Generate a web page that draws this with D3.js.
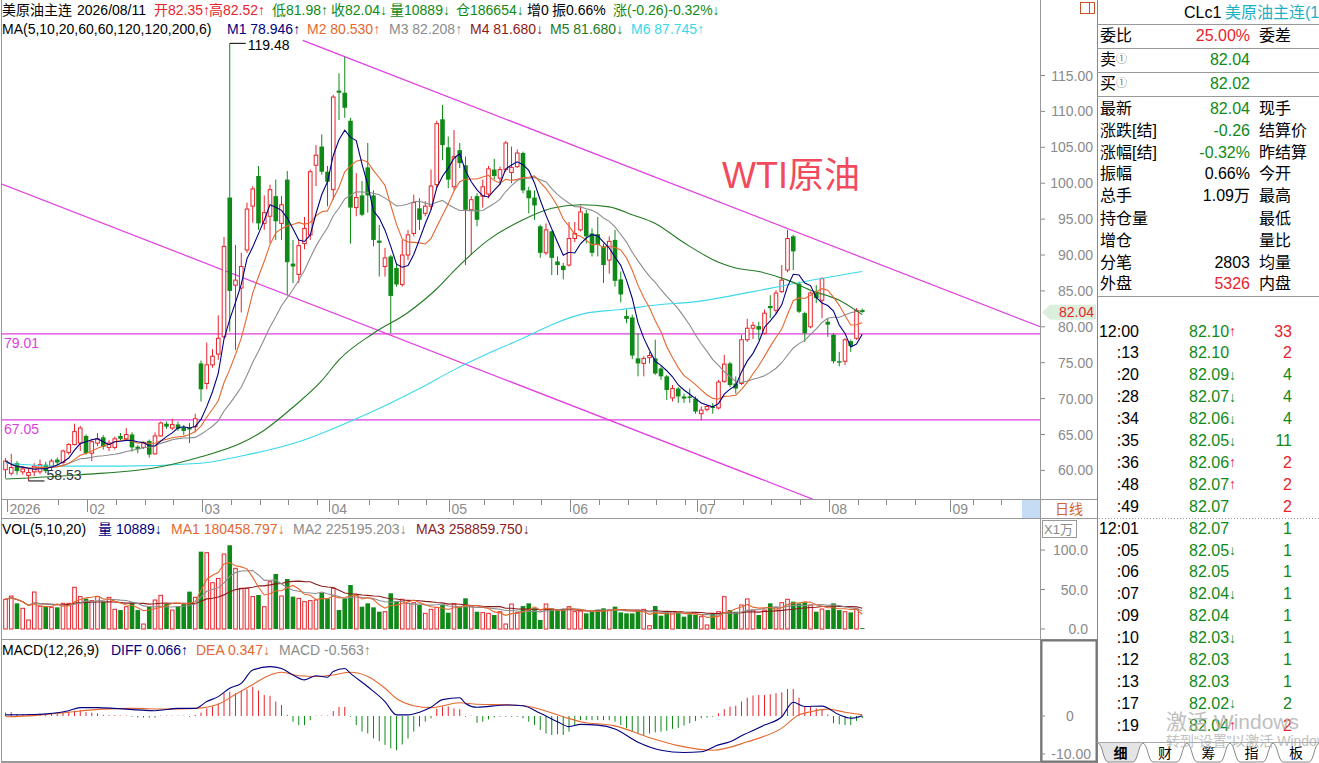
<!DOCTYPE html>
<html>
<head>
<meta charset="utf-8">
<script src="https://cdn.jsdelivr.net/npm/d3@7"></script>
<style>
  body { margin: 0; background: #fff; overflow: hidden; }
  svg text { font-family: "Liberation Sans", Arial, "Noto Sans CJK SC", sans-serif; }
</style>
</head>
<body>
<svg id="chart" width="1319" height="763"></svg>
<script>
// CLc1 daily bars, 2026-01-13 .. 2026-08-11
var opens = [60.1,59.6,61.0,59.8,59.3,59.8,59.8,60.8,60.4,61.5,
  61.1,62.5,63.6,63.8,64.8,62.4,63.8,64.6,63.2,63.2,
  64.8,64.4,65.0,63.3,63.2,64.1,62.3,64.8,66.5,65.9,
  66.4,66.0,65.9,66.1,74.9,72.1,74.7,76.2,78.6,98.0,
  85.8,85.4,90.7,96.8,101.0,94.4,95.4,98.2,94.4,100.5,
  88.8,87.3,91.6,92.8,102.5,105.1,101.6,99.1,112.9,112.6,
  108.7,96.6,98.3,102.2,98.3,92.0,88.4,89.8,88.2,85.9,
  90.0,93.0,96.5,95.8,96.8,99.8,108.9,105.0,99.5,104.6,
  102.5,96.3,98.2,98.2,98.5,101.9,100.7,101.9,101.5,102.3,
  104.2,99.0,98.0,94.0,90.3,93.3,89.1,88.5,88.6,92.3,
  93.5,95.8,93.0,92.9,91.2,89.3,92.1,86.6,81.5,81.3,
  75.6,74.9,75.7,75.6,74.2,73.1,70.1,71.4,70.3,70.3,
  70.0,67.9,68.5,68.9,68.7,72.4,74.9,72.1,72.1,78.2,
  79.8,80.1,79.1,82.9,82.3,84.9,87.9,92.6,86.0,81.9,
  80.0,84.9,83.7,80.7,78.9,75.2,75.2,78.0,78.4,82.35];
var highs = [61.7,62.3,61.3,60.6,60.3,61.0,61.5,61.2,61.6,61.8,
  62.9,63.8,66.5,66.2,65.0,64.4,65.2,64.9,64.2,64.7,
  65.2,65.9,65.3,63.5,64.0,64.3,65.3,66.8,66.8,67.2,
  66.8,66.3,66.6,67.9,75.3,77.8,76.9,81.6,92.5,119.48,
  91.4,90.3,97.3,99.6,102.4,98.3,99.8,100.5,98.2,101.7,
  92.1,92.1,95.3,101.9,105.3,106.8,102.4,112.3,115.3,117.6,
  109.1,101.4,100.3,105.6,99.0,94.2,91.0,90.0,88.9,92.1,
  93.5,98.4,97.9,97.5,101.9,108.7,110.9,106.5,107.4,105.6,
  103.7,98.2,98.6,100.5,102.4,103.4,102.3,105.9,105.1,104.7,
  104.4,99.5,99.0,94.2,94.4,93.4,89.8,88.9,94.6,94.6,
  96.9,96.3,93.7,95.3,91.6,92.6,93.5,87.7,82.4,81.7,
  79.1,75.9,76.5,78.2,74.5,73.3,71.9,71.6,70.7,71.4,
  70.3,68.9,69.1,69.4,72.6,76.1,75.1,73.1,78.9,81.1,
  80.7,80.7,82.4,84.4,85.1,88.6,93.5,92.8,86.3,82.1,
  84.9,85.8,86.9,81.2,79.1,76.5,78.4,78.2,82.6,82.52];
var lows = [58.9,59.3,59.4,59.4,58.53,59.2,59.5,59.6,60.0,60.7,
  60.8,62.2,63.5,62.7,62.2,61.3,63.4,62.9,62.7,62.9,
  64.1,64.2,62.6,62.4,63.0,61.8,62.2,64.7,65.8,65.6,
  65.5,64.9,63.8,65.3,69.6,71.3,74.3,75.4,78.4,79.3,
  76.8,82.0,90.3,94.5,93.5,93.5,91.6,92.1,92.1,84.5,
  86.1,86.1,90.8,92.1,99.6,101.2,96.8,97.7,108.8,109.1,
  91.6,95.4,95.4,95.9,91.2,87.0,87.0,79.1,85.6,85.6,
  89.3,92.6,93.5,95.4,96.3,99.4,103.2,99.3,99.0,102.1,
  88.6,90.0,94.0,96.6,97.9,100.5,99.8,101.6,100.0,102.1,
  98.6,95.8,94.9,89.6,90.0,87.2,87.2,86.6,88.4,91.8,
  93.3,91.6,89.8,89.8,86.1,87.4,85.6,83.4,80.5,75.5,
  73.1,73.1,74.9,73.3,72.6,69.8,69.6,69.4,69.4,69.4,
  67.9,67.0,68.2,67.9,68.5,72.2,71.6,70.7,71.9,77.9,
  78.3,78.2,78.9,81.2,81.8,84.7,87.6,87.9,81.9,77.9,
  79.8,83.3,81.2,78.6,74.9,74.5,74.7,76.5,78.2,81.98];
var closes = [61.3,60.4,59.9,60.2,59.7,60.6,60.8,59.9,61.3,61.1,
  62.7,63.6,65.4,65.9,62.4,64.0,64.4,63.3,63.8,64.4,
  64.4,65.0,63.2,63.0,63.8,62.2,64.8,66.6,66.1,66.4,
  65.8,65.5,65.7,67.2,71.3,74.7,75.9,78.4,91.2,85.0,
  86.5,88.4,96.4,99.2,94.4,95.9,99.1,94.7,97.0,89.0,
  88.4,91.3,93.7,101.6,103.9,101.6,100.2,112.0,112.6,110.5,
  96.6,98.0,95.6,98.3,92.1,91.7,89.6,84.3,85.9,90.0,
  92.8,97.3,94.9,96.8,99.6,108.3,105.3,100.5,103.7,102.8,
  96.3,97.7,94.9,99.5,102.0,101.0,101.9,105.6,102.2,104.2,
  99.0,97.9,96.9,90.3,93.5,89.6,88.6,87.9,92.3,93.0,
  96.0,92.6,90.3,91.4,88.6,91.9,86.4,84.5,81.1,76.0,
  74.9,75.6,76.0,73.5,73.1,71.2,71.4,70.3,70.0,70.1,
  68.2,68.4,68.9,68.7,72.3,74.8,71.9,71.4,78.2,79.8,
  80.2,79.6,81.9,82.6,84.7,86.5,92.3,90.5,82.1,79.1,
  84.7,84.0,86.7,80.3,75.2,75.0,78.2,77.3,82.3,82.04];
// volume in 10k lots (X1万)
var volumes = [37.5,41.7,32.5,26.2,11.4,46.8,29.0,28.2,27.4,27.4,
  32.5,32.5,52.8,41.0,38.4,35.9,41.0,34.6,40.1,24.9,
  24.0,28.2,33.3,24.0,6.3,28.2,36.7,42.6,31.6,24.0,
  29.0,31.6,47.3,40.1,97.9,96.6,58.6,64.1,94.9,106.0,
  76.8,51.5,51.5,41.0,43.0,28.2,59.9,69.6,41.8,63.3,
  41.0,38.8,34.6,35.9,36.7,46.0,38.8,51.5,24.0,38.8,
  55.7,43.0,28.2,32.5,27.4,21.9,21.9,45.2,34.6,37.6,
  32.5,33.3,30.3,19.8,24.9,27.4,30.3,20.7,31.6,28.2,
  38.8,28.2,21.9,20.7,19.8,17.7,21.9,6.3,31.6,20.7,
  29.0,32.5,26.2,11.4,31.6,26.2,24.0,24.0,28.3,21.9,
  22.8,19.8,21.9,24.0,26.2,24.0,28.3,21.0,19.8,19.8,
  24.0,24.9,4.2,29.1,16.9,21.0,21.9,21.9,15.6,18.6,
  17.7,15.6,5.1,19.8,21.9,40.9,24.0,21.9,30.4,38.0,
  24.0,17.7,24.0,32.5,27.0,33.3,37.6,34.6,32.5,33.8,
  30.4,21.9,25.3,24.0,32.5,24.0,21.9,21.0,25.3,1.0889];

var ma60Idx = [0, 13, 27, 34, 41, 45, 50, 55, 58, 64, 70, 75, 78, 84, 90, 95, 100, 105, 109, 113, 118, 124, 127, 131, 136, 140, 145, 149];
var ma60Val = [58.8, 59.4, 60.5, 61.9, 63.8, 65.6, 68.8, 72.5, 75.4, 79.1, 82.0, 85.3, 87.8, 92.1, 94.9, 96.5, 97.0, 96.7, 95.6, 94.4, 91.7, 89.0, 88.2, 87.7, 86.5, 85.1, 83.7, 81.7];
var ma200Idx = [0, 10, 20, 34, 41, 51, 61, 67, 72, 78, 84, 90, 95, 101, 107, 114, 119, 130, 139, 149];
var ma200Val = [61.0, 60.6, 60.6, 61.0, 62.0, 64.0, 67.2, 69.4, 71.4, 74.0, 76.3, 78.4, 80.3, 81.9, 82.4, 83.1, 83.4, 84.9, 86.3, 87.7];

// MACD(12,26,9) as drawn (also depends on older history)
var diffIdx = [0, 5, 11, 13, 16, 19, 23, 26, 30, 33, 35, 37, 39, 41, 43, 46, 48, 50, 52, 54, 56, 57, 59, 60, 63, 66, 68, 70, 72, 74, 76, 79, 80, 82, 87, 90, 93, 96, 98, 100, 103, 106, 110, 114, 118, 121, 124, 126, 128, 132, 135, 137, 139, 142, 145, 147, 149];
var diffVal = [0.3, 0.4, 1.4, 2.2, 2.2, 2.0, 1.6, 1.4, 2.0, 2.0, 3.8, 5.1, 7.3, 8.6, 12.1, 13.0, 12.5, 10.8, 9.5, 10.6, 10.2, 11.7, 12.5, 11.2, 7.7, 3.8, 0.3, 0.3, 1.0, 2.3, 4.3, 4.8, 3.3, 2.3, 2.9, 2.7, 0.7, -1.5, -2.8, -2.2, -2.4, -3.4, -6.9, -9.0, -9.6, -9.4, -7.6, -6.8, -5.2, -2.4, -0.2, 3.6, 2.5, 2.6, 0.3, -0.6, 0.07];
var deaIdx = [0, 5, 11, 17, 22, 28, 33, 37, 40, 43, 46, 48, 51, 54, 57, 60, 63, 66, 68, 71, 74, 79, 82, 88, 91, 97, 100, 106, 112, 117, 123, 129, 135, 138, 140, 143, 146, 149];
var deaVal = [-0.2, 0.1, 1.0, 1.8, 2.0, 1.8, 2.0, 3.1, 5.7, 8.3, 10.8, 11.5, 10.6, 10.4, 10.8, 11.5, 10.4, 7.3, 4.6, 2.7, 2.2, 3.5, 3.1, 2.9, 2.5, -0.2, -1.5, -2.6, -5.7, -7.8, -9.0, -6.8, -3.2, 0.3, 1.1, 1.8, 1.0, 0.35];
var macdHist = [0.9,1.0,0.5,0.4,0.4,0.5,0.6,0.5,0.6,0.6,
  0.9,1.0,1.4,1.6,1.0,0.9,0.7,0.3,0.2,0.2,
  0.1,0.1,-0.2,-0.4,-0.4,-0.4,-0.4,0.1,0.1,0.1,
  0.1,0.1,0.0,0.3,0.9,2.0,2.5,3.3,6.0,6.4,
  6.0,6.6,7.0,7.7,6.7,5.5,5.3,3.8,2.9,0.3,
  -1.5,-2.4,-2.4,-1.1,0.1,0.1,0.1,1.3,2.4,2.4,
  -0.2,-2.4,-4.1,-4.6,-5.9,-6.6,-7.6,-8.5,-9.0,-7.5,
  -5.9,-4.1,-2.8,-1.5,-0.6,1.9,2.5,2.5,2.0,1.8,
  -0.2,0.1,-1.8,-1.5,-0.9,-0.4,-0.2,-0.2,-0.2,-0.2,
  -0.6,-1.5,-2.4,-3.7,-4.6,-5.0,-4.8,-5.0,-4.1,-2.4,
  -1.1,-1.1,-1.1,-1.1,-1.1,-1.1,-1.5,-2.4,-3.2,-4.1,
  -4.6,-5.0,-4.6,-4.3,-4.1,-3.9,-3.4,-3.1,-2.5,-1.9,
  -1.3,-0.6,-0.4,-0.2,0.7,1.8,2.5,2.7,3.8,4.8,
  5.4,5.5,5.5,5.7,6.0,6.2,7.1,7.1,4.8,2.5,
  2.5,2.0,1.8,0.4,-1.9,-2.2,-2.4,-2.4,-1.3,-0.56];

// hand drawn lines on the chart (bar index, price)
var upperTrend = [[51.7, 119.9], [180, 80.0]];
var lowerTrend = [[-1, 100.0], [141, 55.8]];
var levels = [79.01, 67.05];

var monthLabels = ["2026", "02", "03", "04", "05", "06", "07", "08", "09"];
var monthIdx = [0, 14, 34, 56, 77, 98, 120, 143, 164];
var weekIdx = [9, 19, 24, 29, 39, 44, 49, 54, 63, 68, 73, 83, 88, 93, 103, 108, 113, 118, 123, 128, 133, 138, 148, 153, 158, 168, 173];
var priceTicks = [60, 65, 70, 75, 80, 85, 90, 95, 100, 105, 110, 115];
var volTicks = [0, 50, 100];

var RED = "#e8232a", GREEN = "#0f8a18", NAVY = "#000080", ORANGE = "#e5682f",
    GREY = "#8c8c8c", DKRED = "#8b1b1b", MAG = "#e03ce0", CYAN = "#3bd9ea", MAGREEN = "#237a23",
    AXIS = "#8a8a8a";

var svg = d3.select("#chart");
var x = d3.scaleLinear().domain([0, 179]).range([5.5, 5.5 + 179 * 5.75]);
var y = d3.scaleLinear().domain([60, 115]).range([470.4, 75.5]);
var yv = d3.scaleLinear().domain([0, 100]).range([629, 550]);
var ym = d3.scaleLinear().domain([-10, 0]).range([754, 716]);

function sma(arr, n) {
  return arr.map(function (v, i) { return d3.mean(arr.slice(Math.max(0, i - n + 1), i + 1)); });
}
function txt(g, px, py, s, color, size, anchor) {
  return g.append("text").attr("x", px).attr("y", py).attr("fill", color || "#000")
    .attr("font-size", size || 14).attr("text-anchor", anchor || "start")
    .attr("dominant-baseline", "central").text(s);
}
function hline(x1, x2, yy, color, w) {
  svg.append("line").attr("x1", x1).attr("x2", x2).attr("y1", yy).attr("y2", yy)
    .attr("stroke", color).attr("stroke-width", w || 1);
}
function vline(xx, y1, y2, color, w) {
  svg.append("line").attr("x1", xx).attr("x2", xx).attr("y1", y1).attr("y2", y2)
    .attr("stroke", color).attr("stroke-width", w || 1);
}

var bars = d3.range(closes.length).map(function (i) {
  return {i: i, o: opens[i], h: highs[i], l: lows[i], c: closes[i], v: volumes[i], up: closes[i] >= opens[i]};
});

var defs = svg.append("defs");
defs.append("clipPath").attr("id", "clipMain").append("rect").attr("x", 2).attr("y", 36).attr("width", 1038).attr("height", 463);
defs.append("clipPath").attr("id", "clipVol").append("rect").attr("x", 2).attr("y", 540).attr("width", 1038).attr("height", 98);
defs.append("clipPath").attr("id", "clipMacd").append("rect").attr("x", 2).attr("y", 658).attr("width", 1038).attr("height", 103);

// ---------- main price panel ----------
var gMain = svg.append("g").attr("clip-path", "url(#clipMain)");

levels.forEach(function (lv) {
  gMain.append("line").attr("x1", 2).attr("x2", 1040).attr("y1", y(lv)).attr("y2", y(lv))
    .attr("stroke", MAG).attr("stroke-width", 1.2);
  txt(svg, 4, y(lv) + 9, lv.toFixed(2), MAG, 14);
});
[upperTrend, lowerTrend].forEach(function (seg) {
  gMain.append("line").attr("x1", x(seg[0][0])).attr("y1", y(seg[0][1]))
    .attr("x2", x(seg[1][0])).attr("y2", y(seg[1][1]))
    .attr("stroke", MAG).attr("stroke-width", 1.2);
});

gMain.selectAll(".wick").data(bars).enter().append("line")
  .attr("x1", function (d) { return x(d.i); }).attr("x2", function (d) { return x(d.i); })
  .attr("y1", function (d) { return y(d.h); }).attr("y2", function (d) { return y(d.l); })
  .attr("stroke", function (d) { return d.up ? RED : GREEN; });
gMain.selectAll(".body").data(bars).enter().append("rect")
  .attr("x", function (d) { return d.up ? x(d.i) - 1.8 : x(d.i) - 2.3; })
  .attr("width", function (d) { return d.up ? 3.6 : 4.6; })
  .attr("y", function (d) { return y(Math.max(d.o, d.c)); })
  .attr("height", function (d) { return Math.max(1, Math.abs(y(d.o) - y(d.c))); })
  .attr("fill", function (d) { return d.up ? "#fff" : GREEN; })
  .attr("stroke", function (d) { return d.up ? RED : "none"; });

var lineP = d3.line().x(function (d) { return x(d[0]); }).y(function (d) { return y(d[1]); });
var maSets = [
  [sma(closes, 20).map(function (v, i) { return [i, v]; }), GREY, d3.curveLinear],
  [d3.zip(ma200Idx, ma200Val), CYAN, d3.curveMonotoneX],
  [d3.zip(ma60Idx, ma60Val), MAGREEN, d3.curveMonotoneX],
  [sma(closes, 10).map(function (v, i) { return [i, v]; }), ORANGE, d3.curveLinear],
  [sma(closes, 5).map(function (v, i) { return [i, v]; }), NAVY, d3.curveLinear]
];
maSets.forEach(function (m) {
  gMain.append("path").datum(m[0]).attr("fill", "none").attr("stroke", m[1]).attr("stroke-width", 1.1)
    .attr("d", lineP.curve(m[2]));
});

// highest / lowest marks
var hiI = d3.maxIndex(highs), loI = d3.minIndex(lows);
svg.append("line").attr("x1", x(hiI)).attr("x2", x(hiI) + 16).attr("y1", y(highs[hiI])).attr("y2", y(highs[hiI])).attr("stroke", "#000");
txt(svg, x(hiI) + 18, y(highs[hiI]) + 2, highs[hiI].toFixed(2), "#000", 14);
svg.append("line").attr("x1", x(loI)).attr("x2", x(loI) + 16).attr("y1", y(lows[loI])).attr("y2", y(lows[loI])).attr("stroke", "#000");
txt(svg, x(loI) + 18, y(lows[loI]) - 6, lows[loI].toFixed(2), "#333", 14);

svg.append("text").attr("x", 722).attr("y", 188).attr("fill", "#f04a5c").attr("font-size", 36)
  .style("font-family", "'Liberation Sans','Noto Sans CJK SC',sans-serif").text("WTI原油");

// ---------- legends ----------
var gL = svg.append("g");
[["美原油主连", 2, "#000"], ["2026/08/11", 77, "#000"], ["开82.35↑", 154, RED], ["高82.52↑", 209, RED],
 ["低81.98↑", 272, GREEN], ["收82.04↓", 331, GREEN], ["量10889↓", 390, GREEN], ["仓186654↓", 456, GREEN],
 ["增0", 527, "#000"], ["振0.66%", 552, "#000"], ["涨(-0.26)-0.32%↓", 613, GREEN]
].forEach(function (t) { txt(gL, t[1], 10, t[0], t[2], 14); });
[["MA(5,10,20,60,60,120,120,200,6)", 2, "#000"], ["M1 78.946↑", 227, NAVY], ["M2 80.530↑", 307, ORANGE],
 ["M3 82.208↑", 389, GREY], ["M4 81.680↓", 470, DKRED], ["M5 81.680↓", 550, MAGREEN], ["M6 87.745↑", 631, CYAN]
].forEach(function (t) { txt(gL, t[1], 29, t[0], t[2], 14); });
[["VOL(5,10,20)", 2, "#000"], ["量 10889↓", 98, NAVY], ["MA1 180458.797↓", 171, ORANGE],
 ["MA2 225195.203↓", 293, GREY], ["MA3 258859.750↓", 416, DKRED]
].forEach(function (t) { txt(gL, t[1], 529, t[0], t[2], 14); });
[["MACD(12,26,9)", 2, "#000"], ["DIFF 0.066↑", 111, NAVY], ["DEA 0.347↓", 196, ORANGE], ["MACD -0.563↑", 279, GREY]
].forEach(function (t) { txt(gL, t[1], 650, t[0], t[2], 14); });

// ---------- date axis ----------
svg.append("rect").attr("x", 1022).attr("y", 500).attr("width", 18).attr("height", 18).attr("fill", "#c6dcf4");
weekIdx.forEach(function (i) { vline(Math.round(x(i)) + 1.5, 500, 505, AXIS); });
monthIdx.forEach(function (i, k) {
  var px = Math.round(x(i)) + 1.5;
  vline(px, 500, 512, AXIS);
  txt(svg, px + 2, 509, monthLabels[k], AXIS, 14);
});
txt(svg, 1069, 509, "日线", "#d2642a", 14, "middle");

// ---------- volume panel ----------
var gVol = svg.append("g").attr("clip-path", "url(#clipVol)");
gVol.selectAll(".vbar").data(bars).enter().append("rect")
  .attr("x", function (d) { return d.up ? x(d.i) - 1.8 : x(d.i) - 2.3; })
  .attr("width", function (d) { return d.up ? 3.6 : 4.6; })
  .attr("y", function (d) { return yv(d.v); })
  .attr("height", function (d) { return Math.max(0.5, yv(0) - yv(d.v)); })
  .attr("fill", function (d) { return d.up ? "#fff" : GREEN; })
  .attr("stroke", function (d) { return d.up ? RED : "none"; });
var lineV = d3.line().x(function (d, i) { return x(i); }).y(function (d) { return yv(d); });
[[sma(volumes, 20), DKRED], [sma(volumes, 10), GREY], [sma(volumes, 5), ORANGE]].forEach(function (m) {
  gVol.append("path").datum(m[0]).attr("fill", "none").attr("stroke", m[1]).attr("stroke-width", 1.1).attr("d", lineV);
});

// ---------- MACD panel ----------
var gM = svg.append("g").attr("clip-path", "url(#clipMacd)");
gM.selectAll(".mh").data(macdHist).enter().append("line")
  .attr("x1", function (d, i) { return x(i); }).attr("x2", function (d, i) { return x(i); })
  .attr("y1", ym(0)).attr("y2", function (d) { return d === 0 ? ym(0) + 0.8 : ym(d); })
  .attr("stroke", function (d) { return d >= 0 ? RED : GREEN; });
var lineM = d3.line().x(function (d) { return x(d[0]); }).y(function (d) { return ym(d[1]); }).curve(d3.curveMonotoneX);
gM.append("path").datum(d3.zip(deaIdx, deaVal)).attr("fill", "none").attr("stroke", ORANGE).attr("stroke-width", 1.1).attr("d", lineM);
gM.append("path").datum(d3.zip(diffIdx, diffVal)).attr("fill", "none").attr("stroke", NAVY).attr("stroke-width", 1.1).attr("d", lineM);

// ---------- frame ----------
vline(1.5, 0, 763, "#999");
vline(1040.5, 0, 763, "#999");
vline(1097.5, 0, 763, "#888");
hline(2, 1097, 499.5, "#999");
hline(2, 1097, 518.5, "#999");
hline(2, 1097, 639.5, "#999");
hline(2, 1097, 762, "#999", 2);
svg.append("rect").attr("x", 1041.5).attr("y", 640.5).attr("width", 55).attr("height", 121).attr("fill", "none").attr("stroke", "#777").attr("stroke-width", 2);
svg.append("rect").attr("x", 1080.5).attr("y", 2.5).attr("width", 14).attr("height", 11).attr("fill", "none").attr("stroke", "#c8502a");
vline(1089.5, 2.5, 13.5, "#c8502a");

// right axes
priceTicks.forEach(function (p) {
  hline(1041, 1045, y(p), AXIS);
  txt(svg, 1093, y(p), p.toFixed(2), AXIS, 14, "end");
});
volTicks.forEach(function (v) {
  hline(1041, 1045, yv(v), AXIS);
  txt(svg, 1088, yv(v), v.toFixed(1), AXIS, 14, "end");
});
svg.append("rect").attr("x", 1042.5).attr("y", 520.5).attr("width", 34).attr("height", 17).attr("fill", "none").attr("stroke", "#999");
txt(svg, 1044, 529, "X1万", AXIS, 13);
hline(1041, 1045, ym(0), AXIS);
hline(1041, 1045, ym(-10), AXIS);
txt(svg, 1070, ym(0), "0", AXIS, 14, "middle");
txt(svg, 1091, ym(-10), "-10.00", AXIS, 14, "end");

// last price tag
var last = closes[closes.length - 1];
svg.append("path").attr("d", "M1042," + y(last) + " L1050," + (y(last) - 7.5) + " L1096," + (y(last) - 7.5) +
  " L1096," + (y(last) + 7.5) + " L1050," + (y(last) + 7.5) + " Z").attr("fill", "#dcefdc");
txt(svg, 1094, y(last), last.toFixed(2), RED, 14, "end");

// ---------- quote panel ----------
var gQ = svg.append("g");
txt(gQ, 1184, 12, "CLc1", "#000", 16);
txt(gQ, 1225, 12, "美原油主连(1", "#1fb0c4", 16);
[24.5, 48.5, 72.5, 96.5, 296.5].forEach(function (yy) { hline(1097, 1319, yy, "#999"); });
var quoteRows = [
  ["委比", "", "25.00%", RED, "委差"],
  ["卖", "①", "82.04", GREEN, ""],
  ["买", "①", "82.02", GREEN, ""],
  ["最新", "", "82.04", GREEN, "现手"],
  ["涨跌[结]", "", "-0.26", GREEN, "结算价"],
  ["涨幅[结]", "", "-0.32%", GREEN, "昨结算"],
  ["振幅", "", "0.66%", "#000", "今开"],
  ["总手", "", "1.09万", "#000", "最高"],
  ["持仓量", "", "", "#000", "最低"],
  ["增仓", "", "", "#000", "量比"],
  ["分笔", "", "2803", "#000", "均量"],
  ["外盘", "", "5326", RED, "内盘"]
];
var quoteY = [35, 59, 83, 108, 130, 152, 173, 195, 218, 240, 262, 283];
quoteRows.forEach(function (r, k) {
  var t = txt(gQ, 1100, quoteY[k], r[0], "#000", 16);
  if (r[1]) t.append("tspan").attr("fill", "#777").attr("font-size", 11).text(r[1]);
  if (r[2]) txt(gQ, 1250, quoteY[k], r[2], r[3], 16, "end");
  if (r[4]) txt(gQ, 1259, quoteY[k], r[4], "#000", 16);
});

var tickTimes = ["12:00", ":13", ":20", ":28", ":34", ":35", ":36", ":48", ":49", "12:01", ":05", ":06", ":07", ":09", ":10", ":12", ":13", ":17", ":19"];
var tickPrices = ["82.10", "82.10", "82.09", "82.07", "82.06", "82.05", "82.06", "82.07", "82.07", "82.07", "82.05", "82.05", "82.04", "82.04", "82.03", "82.03", "82.03", "82.02", "82.04"];
var tickArrows = ["↑", "", "↓", "↓", "↓", "↓", "↑", "↑", "", "", "↓", "", "↓", "", "↓", "", "", "↓", "↑"];
var tickLots = [33, 2, 4, 4, 4, 11, 2, 2, 2, 1, 1, 1, 1, 1, 1, 1, 1, 2, 2];
var tickBuy = [1, 1, 0, 0, 0, 0, 1, 1, 1, 0, 0, 0, 0, 0, 0, 0, 0, 0, 1];
tickTimes.forEach(function (tm, k) {
  var yy = 331 + k * 21.9;
  txt(gQ, 1139, yy, tm, "#000", 16, "end");
  var t = txt(gQ, 1189, yy, tickPrices[k], GREEN, 16);
  if (tickArrows[k]) t.append("tspan").attr("fill", tickArrows[k] === "↑" ? RED : GREEN).attr("font-size", 14).text(tickArrows[k]);
  txt(gQ, 1292, yy, tickLots[k], tickBuy[k] ? RED : GREEN, 16, "end");
});
svg.append("line").attr("x1", 1099).attr("x2", 1319).attr("y1", 518.5).attr("y2", 518.5)
  .attr("stroke", "#999").attr("stroke-dasharray", "1,2");

// bottom tabs
var tabNames = ["细", "财", "筹", "指", "板"];
var tabEdges = [1098, 1143, 1187, 1230, 1273, 1319];
hline(1097, 1319, 742.5, "#aaa");
tabNames.forEach(function (nm, k) {
  var a = tabEdges[k], b = tabEdges[k + 1];
  gQ.append("path").attr("d", "M" + a + ",743 C" + (a + 5) + ",745 " + (a + 5) + ",761 " + (a + 10) + ",762 L" + (b - 10) + ",762 C" + (b - 5) + ",761 " + (b - 5) + ",745 " + b + ",743")
    .attr("fill", k === 0 ? "#e4e4e4" : "#fff").attr("stroke", "#888");
  txt(gQ, (a + b) / 2, 753, nm, "#000", 14, "middle").attr("font-weight", k === 0 ? "bold" : "normal");
});

// windows activation watermark (it lies over the tick list in the screenshot too)
txt(svg, 1166, 721, "激活 Windows", "#b4b4b4", 21).attr("opacity", 0.85);
txt(svg, 1166, 741, "转到“设置”以激活 Windows。", "#b4b4b4", 14).attr("opacity", 0.85);
</script>
</body>
</html>
